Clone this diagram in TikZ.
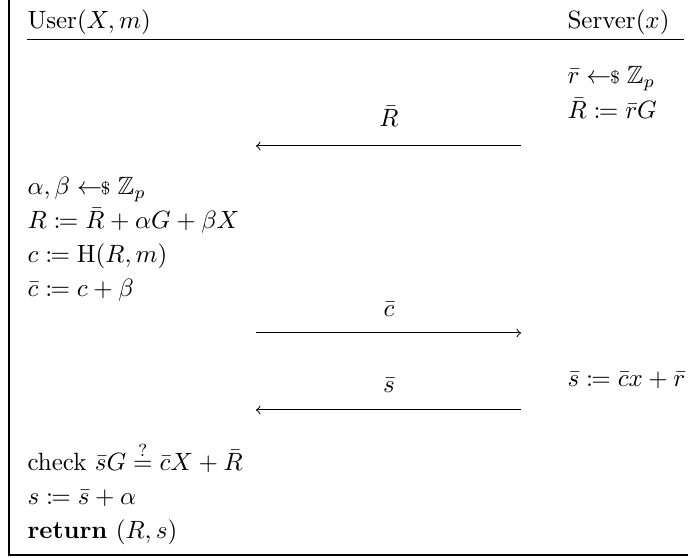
\documentclass[tikz,border=0pt]{standalone}
\usepackage{amsmath,amssymb,mathtools}
\newcommand{\smpl}{\mathrel{\leftarrow\!\!\mbox{\scriptsize\$}}}
\tikzset{
  txt/.style={inner sep=0pt, anchor=base west},
  txte/.style={inner sep=0pt, anchor=base east},
  lbl/.style={inner sep=0pt, anchor=base},
  msg/.style={line width=0.4pt},
  frame/.style={line width=0.5pt}
}
\begin{document}
\begin{tikzpicture}[x=0.4pt,y=-0.4pt]
\useasboundingbox (0,0) rectangle (688,558);
% frame
\draw[frame] (9,0) -- (9,555) -- (688,555);
% header
\node[txt] (user) at (27,29) {User$(X,m)$};
\node[txte] (server) at (670,29) {Server$(x)$};
\coordinate (hl) at (27,40);
\coordinate (hr) at (684,40);
\draw[msg] (hl) -- (hr);
% server side
\node[txt] (s1) at (567,84) {$\bar r \smpl \mathbb{Z}_p$};
\node[txt] (s2) at (567,119) {$\bar R \coloneqq \bar r G$};
% message 1
\coordinate (m1r) at (521,146);
\coordinate (m1l) at (256,146);
\draw[msg,->] (m1r) -- (m1l);
\node[lbl] (l1) at (389,127) {$\bar R$};
% user side
\node[txt] (u1) at (27,195) {$\alpha, \beta \smpl \mathbb{Z}_p$};
\node[txt] (u2) at (27,229) {$R \coloneqq \bar R + \alpha G + \beta X$};
\node[txt] (u3) at (27,263) {$c \coloneqq \mathrm{H}(R, m)$};
\node[txt] (u4) at (27,297) {$\bar c \coloneqq c + \beta$};
% message 2
\coordinate (m2l) at (256,333);
\coordinate (m2r) at (521,333);
\draw[msg,->] (m2l) -- (m2r);
\node[lbl] (l2) at (389,317) {$\bar c$};
% message 3
\node[txt] (s3) at (567,387) {$\bar s \coloneqq \bar c x + \bar r$};
\coordinate (m3r) at (521,410);
\coordinate (m3l) at (256,410);
\draw[msg,->] (m3r) -- (m3l);
\node[lbl] (l3) at (389,393) {$\bar s$};
% user final
\node[txt] (u5) at (27,471) {check $\bar s G \stackrel{?}{=} \bar c X + \bar R$};
\node[txt] (u6) at (27,505) {$s \coloneqq \bar s + \alpha$};
\node[txt] (u7) at (27,539) {$\mathbf{return}\ (R, s)$};
\end{tikzpicture}
\end{document}
